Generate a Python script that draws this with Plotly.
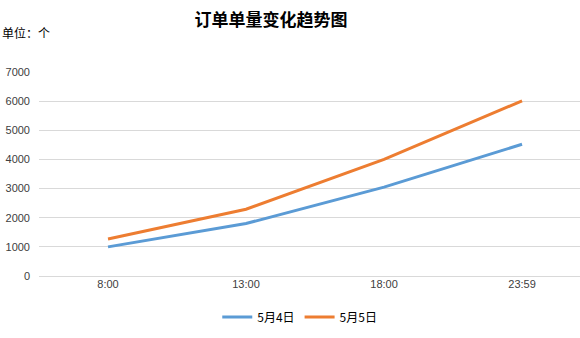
import plotly.graph_objects as go

# Order volume by time slot for two days
times = ["8:00", "13:00", "18:00", "23:59"]
may4 = [1000, 1800, 3050, 4520]
may5 = [1270, 2290, 4000, 6010]
y_ticks = [0, 1000, 2000, 3000, 4000, 5000, 6000, 7000]

cjk = "Noto Sans CJK SC"
tick_font = dict(family="Liberation Sans, " + cjk, size=11, color="#404040")

fig = go.Figure()
fig.add_trace(go.Scatter(x=times, y=may4, mode="lines", name="5月4日",
                         line=dict(color="#5B9BD5", width=3)))
fig.add_trace(go.Scatter(x=times, y=may5, mode="lines", name="5月5日",
                         line=dict(color="#ED7D31", width=3)))

fig.update_layout(
    width=580, height=338,
    margin=dict(l=39, r=0, t=72, b=62),
    paper_bgcolor="white", plot_bgcolor="white",
    showlegend=True,
    title=dict(text="<b>订单单量变化趋势图</b>", x=271 / 580, xanchor="center",
               y=1 - 20 / 338, yanchor="middle",
               font=dict(family=cjk, size=17, color="#000000")),
    legend=dict(orientation="h", x=0.482, xanchor="center", y=-0.13, yanchor="top",
                itemwidth=30, tracegroupgap=0,
                font=dict(family=cjk, size=12, color="#000000")),
    annotations=[dict(text="单位：个", xref="paper", yref="paper",
                      x=-39 / 541, xanchor="left", y=1 + 40 / 204, yanchor="middle",
                      showarrow=False, font=dict(family=cjk, size=12, color="#000000"))],
)
fig.update_xaxes(type="category", range=[-0.5, 3.42], showgrid=False, showline=False,
                 ticks="", tickfont=tick_font, fixedrange=True)
fig.update_yaxes(range=[0, 7000], tickvals=y_ticks, showgrid=True, gridcolor="#D9D9D9",
                 gridwidth=1, zeroline=True, zerolinecolor="#D9D9D9", zerolinewidth=1,
                 showline=False, ticks="", tickfont=tick_font, ticklabelstandoff=8)

fig.write_html("out.html")
